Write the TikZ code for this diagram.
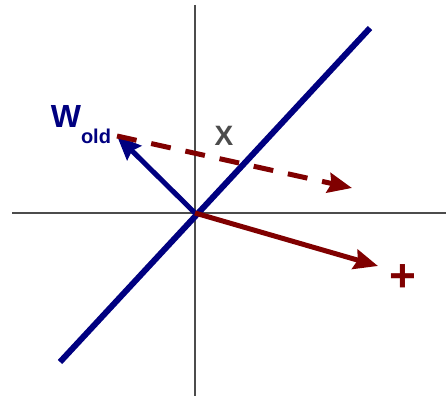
\documentclass[tikz,border=0pt]{standalone}
\usepackage{fontspec}
\setmainfont{Liberation Sans}
\usetikzlibrary{arrows.meta}
\definecolor{wblue}{RGB}{0,0,128}
\definecolor{xred}{RGB}{128,0,0}
\tikzset{axis/.style={draw=black!70, line width=1.6pt},
  vec/.style={line width=5pt, -{Stealth[length=24pt, width=20pt, inset=3pt]}},
  etq/.style={font=\bfseries, inner sep=0pt}}

\begin{document}
\begin{tikzpicture}[x=1pt, y=-1pt]
  \useasboundingbox (0,0) rectangle (446,398);
  \coordinate (O) at (195,213);
  \draw[axis] (195,5) -- (195,396);  \draw[axis] (12,213) -- (446,213);
  \draw[wblue, line width=6pt] (60,362) -- (370,28);
  \coordinate (wtip) at (117,136);  \coordinate (xtip) at (352,188);  \coordinate (ptip) at (378,266);
  \draw[vec, wblue] (O) -- (wtip);
  \draw[vec, xred, dashed, dash pattern=on 20pt off 15pt] (wtip) -- (xtip);
  \draw[vec, xred] (O) -- (ptip);
  \node[etq, wblue, font=\fontsize{32}{32}\bfseries] (w) at (66,116) {W};
  \node[etq, wblue, font=\fontsize{20}{20}\bfseries] (old) at (96,136) {old};
  \node[etq, black!70, font=\fontsize{28}{28}\bfseries] (x) at (224,136) {X};
  \node[etq, xred, font=\fontsize{46}{46}\bfseries] (plus) at (403,278) {+};
\end{tikzpicture}
\end{document}
